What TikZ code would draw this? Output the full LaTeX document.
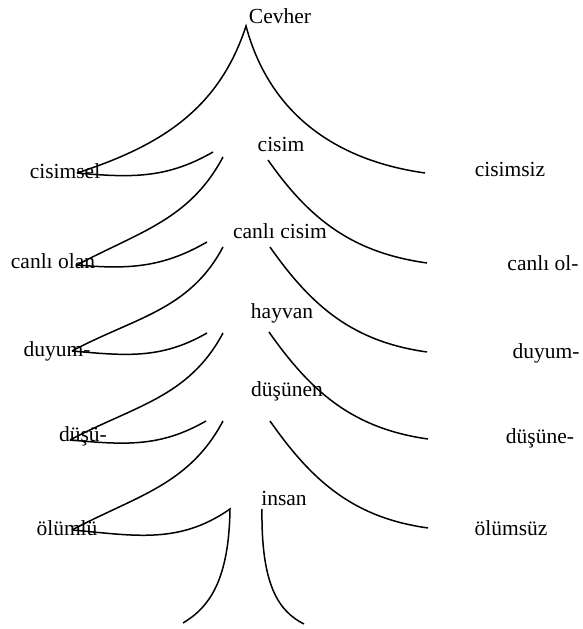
\documentclass[tikz,border=0pt]{standalone}
\usepackage{fontspec}
\setmainfont{Liberation Serif}

\begin{document}
\begin{tikzpicture}[x=1pt,y=1pt,
  branch/.style={line width=1.5pt},
  lbl/.style={font=\fontsize{21.5}{25}\selectfont,inner sep=0pt}]
\useasboundingbox (0,0) rectangle (582,629);
% top fork
\draw[branch] (77,456) to[out=18,in=-108] (246,603) to[out=-75,in=172] (425,456);
\draw[branch] (213,477) to[out=-150,in=-5] (77,456);
% middle forks
\draw[branch] (223,472) to[out=-118,in=28] (77,364);
\draw[branch] (268,469) to[out=-55,in=172] (427,366);
\draw[branch] (207,387) to[out=-150,in=-5] (77,364);
\draw[branch] (223,382) to[out=-118,in=28] (72,278);
\draw[branch] (270,382) to[out=-55,in=172] (427,277);
\draw[branch] (207,296) to[out=-150,in=-5] (72,278);
\draw[branch] (223,296) to[out=-118,in=28] (70,189);
\draw[branch] (269,297) to[out=-55,in=172] (428,190);
\draw[branch] (206,208) to[out=-150,in=-5] (70,189);
\draw[branch] (223,208) to[out=-118,in=28] (72,99);
\draw[branch] (270,208) to[out=-55,in=172] (428,101);
% trunk
\draw[branch] (72,99) to[out=-5,in=-145] (230,120) .. controls (229,50) and (210,22) .. (183,6);
\draw[branch] (262,120) .. controls (261,45) and (278,18) .. (304,5);
% labels, middle
\node[lbl] (cevher) at (280,613) {Cevher};
\node[lbl] (cisim) at (281,485) {cisim};
\node[lbl] (canlicisim) at (280,398) {canlı cisim};
\node[lbl] (hayvan) at (282,316) {hayvan};
\node[lbl] (dusunen) at (287,238) {düşünen};
\node[lbl] (insan) at (284,131) {insan};
% labels, left
\node[lbl] (cisimsel) at (65,458) {cisimsel};
\node[lbl] (canliolan) at (53,368) {canlı olan};
\node[lbl] (duyumL) at (57,278) {duyum-};
\node[lbl] (dusuL) at (83,193) {düşü-};
\node[lbl] (olumlu) at (67,101) {ölümlü};
% labels, right
\node[lbl] (cisimsiz) at (510,460) {cisimsiz};
\node[lbl] (canliol) at (543,366) {canlı ol-};
\node[lbl] (duyumR) at (546,276) {duyum-};
\node[lbl] (dusuneR) at (540,191) {düşüne-};
\node[lbl] (olumsuz) at (511,101) {ölümsüz};
\end{tikzpicture}
\end{document}
